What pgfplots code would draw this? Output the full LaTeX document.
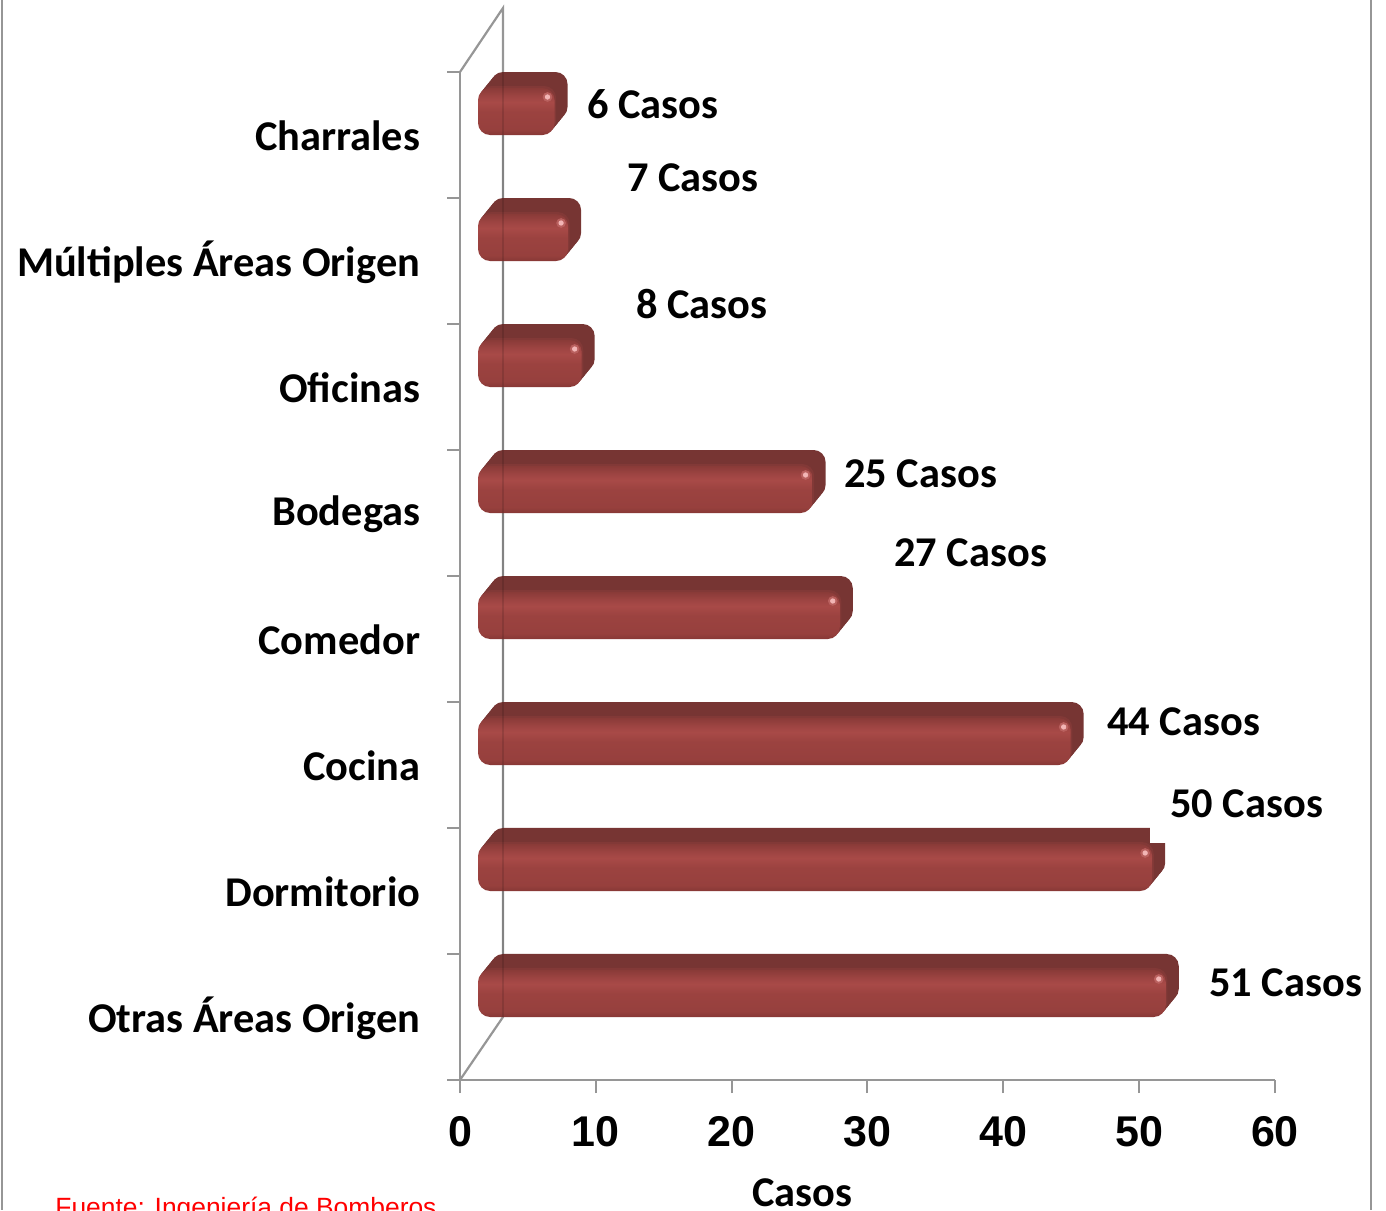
\documentclass[border=0pt]{standalone}
\usepackage{fontspec}
\usepackage{pgfplots}
\usepackage{pgfplotstable}
\pgfplotsset{compat=1.18}
\setmainfont{Carlito}
\newfontfamily\arialf{Liberation Sans}

\definecolor{axisgray}{HTML}{969696}
\definecolor{bardark}{HTML}{773533}
\definecolor{barsoft}{HTML}{823937}
\definecolor{spotout}{HTML}{B9605E}
\definecolor{spotin}{HTML}{F2B5B5}

\pgfdeclareverticalshading{barfront}{100bp}{
  rgb(0bp)=(0.53,0.22,0.21);
  rgb(25bp)=(0.53,0.22,0.21);
  rgb(31bp)=(0.59,0.25,0.24);
  rgb(50bp)=(0.61,0.26,0.25);
  rgb(60bp)=(0.66,0.29,0.28);
  rgb(66bp)=(0.62,0.27,0.26);
  rgb(75bp)=(0.54,0.23,0.22);
  rgb(100bp)=(0.54,0.23,0.22)}

\pgfplotstableread{
c v
0 51
1 50
2 44
3 27
4 25
5 8
6 7
7 6
}\casos

\begin{document}
\begin{tikzpicture}
\useasboundingbox (0,0) rectangle (693pt,605pt);

% marco y paredes, en pixeles de la imagen
\begin{scope}[x=0.5pt,y=-0.5pt,yshift=605pt]
  \draw[axisgray,line width=1.2pt] (2,0) -- (2,1210);
  \draw[axisgray,line width=1.2pt] (1371,0) -- (1371,1210);
  \draw[axisgray,line width=1.1pt] (460,72) -- (503,8) -- (503,1017) -- (460,1080);
\end{scope}

% ejes
\begin{axis}[
    at={(230pt,65pt)}, anchor=south west,
    scale only axis, width=407.5pt, height=504pt,
    xmin=0, xmax=60, ymin=-0.5, ymax=7.5,
    axis x line*=bottom, axis y line*=left,
    axis line style={axisgray,line width=1.2pt,-},
    tick align=outside,
    major tick length=0pt, minor tick length=6.5pt,
    minor tick style={axisgray,line width=1pt},
    xtick={0,10,...,60},
    minor xtick={0,10,...,60},
    ytick={0,...,7},
    minor ytick={-0.5,0.5,...,7.5},
    yticklabels={Otras Áreas Origen,Dormitorio,Cocina,Comedor,Bodegas,Oficinas,Múltiples Áreas Origen,Charrales},
    /pgf/number format/assume math mode=true,
    yticklabel style={font=\fontsize{21.2}{21.2}\selectfont\bfseries,anchor=east,inner sep=0pt,xshift=-19.7pt,yshift=-0.6pt},
    xticklabel style={font=\arialf\fontsize{21.5}{21.5}\selectfont\bfseries,inner sep=0pt,yshift=-18pt},
    xlabel={Casos},
    xlabel style={font=\fontsize{21.2}{21.2}\selectfont\bfseries,inner sep=0pt,xshift=-32.5pt,yshift=-15.5pt},
  ]
\end{axis}

% barras con volumen
\begin{axis}[
    at={(239pt,65pt)}, anchor=south west,
    scale only axis, width=407.5pt, height=504pt,
    xmin=0.368, xmax=60.368, ymin=-0.5, ymax=7.5,
    axis lines=none, clip=false,
  ]
  \pgfplotsinvokeforeach{8,7,6,5,4,3,2}{
    \addplot[xbar,bar width=23.5pt,bar shift=11.75pt,draw=none,fill=bardark,
      rounded corners=6pt,xshift=#1*0.8125pt,yshift=#1*1pt]
      table[x=v,y=c] {\casos};
  }
  \addplot[xbar,bar width=23.5pt,bar shift=11.75pt,draw=none,fill=barsoft,
    rounded corners=6pt,xshift=0.8125pt,yshift=1pt]
    table[x=v,y=c] {\casos};
  % una barra por plot: el sombreado se ajusta a cada barra
  \pgfplotsinvokeforeach{0,...,7}{
    \addplot[xbar,bar width=23.5pt,bar shift=11.75pt,draw=none,shading=barfront,
      rounded corners=6pt,restrict y to domain=#1:#1]
      table[x=v,y=c] {\casos};
  }
  \addplot[only marks,mark=*,mark size=2.2pt,mark options={draw=spotout,fill=spotout},
    xshift=-3.5pt,yshift=19pt]
    table[x=v,y=c] {\casos};
  \addplot[only marks,mark=*,mark size=1.1pt,mark options={draw=spotin,fill=spotin},
    xshift=-3.5pt,yshift=19pt]
    table[x=v,y=c] {\casos};
\end{axis}

% etiquetas y detalles
\begin{scope}[x=0.5pt,y=-0.5pt,yshift=605pt]
  \draw[black,opacity=0.12,line width=1.1pt] (503,72) -- (503,1017);
  \fill[white] (1150,815) rectangle (1172,843);
  \begin{scope}[every node/.style={anchor=west,inner sep=0pt,font=\fontsize{21.2}{21.2}\selectfont\bfseries}]
    \node at (587,104) {6 Casos};
    \node at (627,178) {7 Casos};
    \node at (636,304) {8 Casos};
    \node at (844,474) {25 Casos};
    \node at (894,553) {27 Casos};
    \node at (1107,722) {44 Casos};
    \node at (1170,804) {50 Casos};
    \node at (1209,983) {51 Casos};
  \end{scope}
  \node[anchor=base west,inner sep=0pt,text=red,font=\arialf\fontsize{13.2}{13.2}\selectfont] at (55,1216) {Fuente: Ingeniería de Bomberos};
\end{scope}
\end{tikzpicture}
\end{document}
